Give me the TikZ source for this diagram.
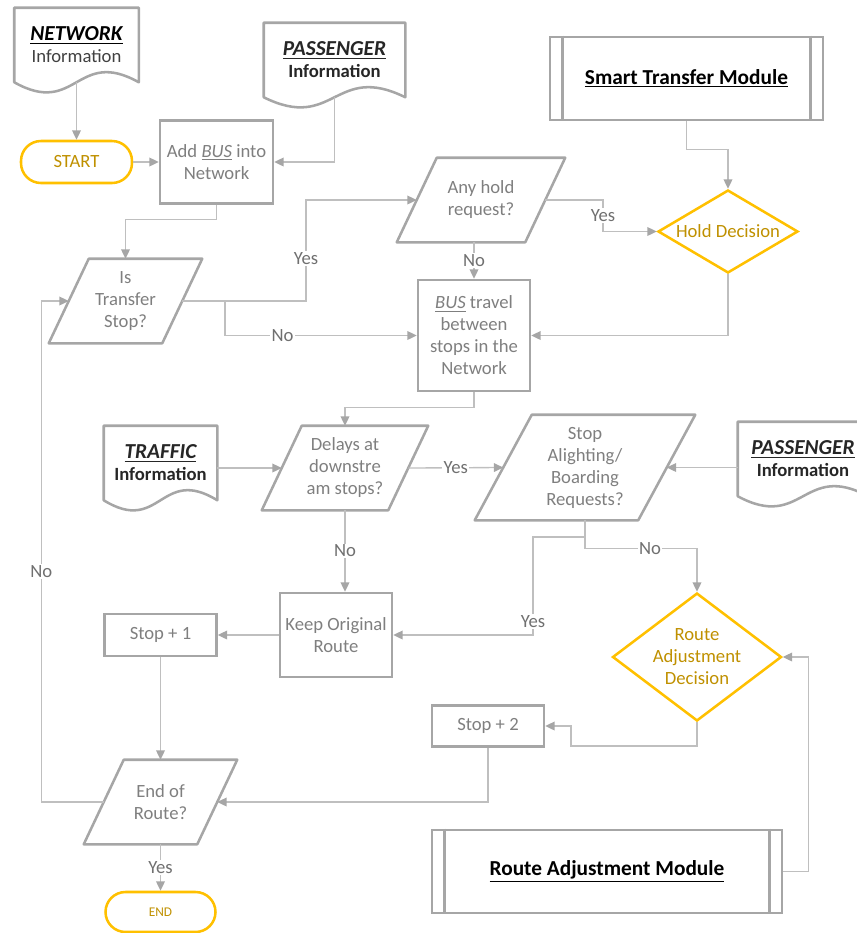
\documentclass[tikz,border=0pt]{standalone}
\usepackage{fontspec}
\setmainfont{Carlito}
\usepackage{xcolor}
\usetikzlibrary{shapes.geometric,arrows.meta,calc}

\definecolor{boxgray}{HTML}{A6A6A6}
\definecolor{linegray}{HTML}{BFBFBF}
\definecolor{txtgray}{HTML}{7F7F7F}
\definecolor{lblgray}{HTML}{707070}
\definecolor{gold}{HTML}{FFC000}
\definecolor{goldtxt}{HTML}{BF9000}
\definecolor{infotxt}{HTML}{262626}

\tikzset{
  base/.style={font=\fontsize{14}{16.5}\selectfont, align=center, text=txtgray},
  procbox/.style={base, draw=boxgray, line width=1.9pt, fill=white, inner sep=2pt},
  terminal/.style={base, draw=gold, line width=1.9pt, rounded corners=15pt, text=goldtxt},
  iobox/.style={base, draw=none, inner sep=0pt, minimum height=63pt},
  decision/.style={base, draw=gold, line width=1.9pt, shape=diamond, inner sep=0pt, text=goldtxt},
  docbox/.style={base, draw=none, text=infotxt, inner sep=0pt},
  outline/.style={draw=boxgray, line width=1.9pt, line join=round},
  module/.style={procbox, text=black, font=\fontsize{16}{19}\selectfont\bfseries},
  flow/.style={draw=linegray, line width=1pt, -{Triangle[length=7pt,width=6.5pt,color=boxgray]}},
  lbl/.style={base, text=lblgray, fill=white, inner sep=1pt},
}

% wavy bottom of a document node
\newcommand{\docoutline}[1]{%
  \draw[outline] (#1.south west) -- (#1.north west) -- (#1.north east) -- (#1.south east)
    .. controls ($(#1.south)+(0,-35)$) and ($(#1.south)+(0,35)$) .. (#1.south west) -- cycle;
}
% slanted sides of a question node (#2 = half the slant)
\newcommand{\iooutline}[2]{%
  \draw[outline] ([xshift=-#2]#1.south west) -- ([xshift=#2]#1.north west)
    -- ([xshift=#2]#1.north east) -- ([xshift=-#2]#1.south east) -- cycle;
}
% side bars of a module node
\newcommand{\modlines}[1]{%
  \draw[outline] ([xshift=10.5pt]#1.north west) -- ([xshift=10.5pt]#1.south west);
  \draw[outline] ([xshift=-10.5pt]#1.north east) -- ([xshift=-10.5pt]#1.south east);
}

\begin{document}
\begin{tikzpicture}[x=0.75pt, y=-0.75pt]
  \useasboundingbox (0,0) rectangle (857,933);

  % Information documents
  \node[docbox, minimum width=93pt, minimum height=55.5pt] (net) at (76.5,45)
    {{\fontsize{16}{19}\selectfont\bfseries\itshape\color{black}\underline{NETWORK}}\\
     \color{black!75}Information};
  \node[docbox, minimum width=105.75pt, minimum height=55.5pt] (pass1) at (334.5,60)
    {{\fontsize{16}{19}\selectfont\bfseries\itshape\underline{PASSENGER}}\\\textbf{Information}};
  \node[docbox, minimum width=84.75pt, minimum height=55.5pt] (traffic) at (160.5,463)
    {{\fontsize{16}{19}\selectfont\bfseries\itshape\underline{TRAFFIC}}\\\textbf{Information}};
  \node[docbox, minimum width=97.5pt, minimum height=55.5pt] (pass2) at (803,459)
    {{\fontsize{16}{19}\selectfont\bfseries\itshape\underline{PASSENGER}}\\\textbf{Information}};
  \docoutline{net}
  \docoutline{pass1}
  \docoutline{traffic}
  \docoutline{pass2}

  % Modules
  \node[module, minimum width=204.75pt, minimum height=62.25pt] (stm) at (686.5,78.5)
    {\underline{Smart Transfer Module}};
  \node[module, minimum width=262.5pt, minimum height=62.25pt] (ram) at (607,871.5)
    {\underline{Route Adjustment Module}};
  \modlines{stm}
  \modlines{ram}

  % Start and end
  \node[terminal, minimum width=83.25pt, minimum height=31.5pt] (start) at (76.5,162) {START};
  \node[terminal, minimum width=82.5pt, minimum height=30pt, font=\fontsize{10}{12}\selectfont] (end) at (160.5,912) {END};

  % Process boxes
  \node[procbox, minimum width=84.75pt, minimum height=62.25pt] (addbus) at (216.5,162)
    {Add \underline{\textit{BUS}} into\\Network};
  \node[procbox, minimum width=84pt, minimum height=83.25pt] (bustravel) at (474,335.5)
    {\underline{\textit{BUS}} travel\\between\\stops in the\\Network};
  \node[procbox, minimum width=84pt, minimum height=63pt] (keep) at (336,635) {Keep Original\\Route};
  \node[procbox, minimum width=84pt, minimum height=31.5pt] (stop1) at (160.5,635) {Stop + 1};
  \node[procbox, minimum width=84pt, minimum height=30.75pt] (stop2) at (488,726) {Stop + 2};

  % Questions
  \node[iobox, minimum width=84.75pt] (istrans) at (125.5,301) {Is\\Transfer\\Stop?};
  \node[iobox, minimum width=96pt] (anyhold) at (481,200) {Any hold\\request?};
  \node[iobox, minimum width=94.5pt] (delays) at (345,468) {Delays at\\downstre\\am stops?};
  \node[iobox, minimum width=122.25pt, minimum height=78.75pt] (stopal) at (585,467.5)
    {Stop\\Alighting/\\Boarding\\Requests?};
  \node[iobox, minimum width=84.75pt] (endr) at (160.5,802) {End of\\Route?};
  \iooutline{istrans}{15pt}
  \iooutline{anyhold}{15pt}
  \iooutline{delays}{15pt}
  \iooutline{stopal}{21.4pt}
  \iooutline{endr}{15pt}

  % Decisions
  \node[decision, minimum width=105pt, minimum height=62.25pt] (hold) at (728,231.5) {};
  \node[base, text=goldtxt] at (hold) {Hold Decision};
  \node[decision, minimum width=126.75pt, minimum height=96pt] (route) at (697,657) {};
  \node[base, text=goldtxt] at (route) {Route\\Adjustment\\Decision};

  % Turning points
  \coordinate (yturn) at (306,301);
  \coordinate (nturn) at (225,301);
  \coordinate (hturn) at (603,200);
  \coordinate (kturn) at (533,537);
  \coordinate (rturn) at (571,746);

  % Connectors
  \draw[flow] (net.south) -- (start.north);
  \draw[flow] (start.east) -- (addbus.west);
  \draw[flow] (pass1.south) |- (addbus.east);
  \draw[flow] (addbus.south) -- ++(0,15) -| (istrans.north);
  \draw[flow] (istrans.east) -- (yturn) |- node[lbl, pos=0.21] {Yes} (anyhold.west);
  \draw[flow] (nturn) |- node[lbl, pos=0.65] {No} (bustravel.west);
  \draw[flow] (anyhold.south -| bustravel.north) -- node[lbl] {No} (bustravel.north);
  \draw[flow] (anyhold.east) -- (hturn) |- node[lbl, pos=0.25] {Yes} (hold.west);
  \draw[flow] (stm.south) -- ++(0,28) -| (hold.north);
  \draw[flow] (hold.south) |- (bustravel.east);
  \draw[flow] (bustravel.south) -- ++(0,15) -| (delays.north);
  \draw[flow] (traffic.east |- delays.west) -- (delays.west);
  \draw[flow] (delays.east) -- node[lbl] {Yes} (stopal.west);
  \draw[flow] (pass2.west |- stopal.east) -- (stopal.east);
  \draw[flow] (delays.south) -- node[lbl] {No} (delays.south |- keep.north);
  \draw[flow] (stopal.south) -- ++(0,28) -| node[lbl, pos=0.29] {No} (route.north);
  \draw[flow] (stopal.south) |- (kturn) |- node[lbl, pos=0.43] {Yes} (keep.east);
  \draw[flow] (route.south) |- (rturn) |- (stop2.east);
  \draw[flow] (stop2.south) |- (endr.east);
  \draw[flow] (ram.east) -- ++(25,0) |- (route.east);
  \draw[flow] (keep.west) -- (stop1.east);
  \draw[flow] (stop1.south) -- (endr.north);
  \draw[flow] (endr.west) -- ++(-62.5,0) |- node[lbl, pos=0.23] {No} (istrans.west);
  \draw[flow] (endr.south) -- node[lbl] {Yes} (end.north);
\end{tikzpicture}
\end{document}
